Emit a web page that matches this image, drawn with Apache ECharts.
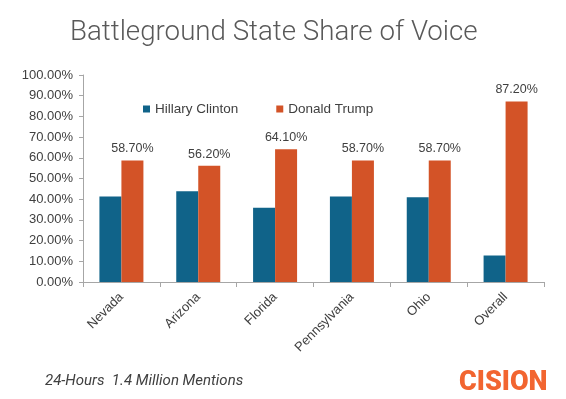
<!DOCTYPE html>
<html>
<head>
<meta charset="utf-8">
<script src="https://cdn.jsdelivr.net/npm/echarts@6/dist/echarts.min.js"></script>
<style>
  html, body { margin: 0; padding: 0; background: #fff; }
  #chart { width: 566px; height: 399px; }
</style>
</head>
<body>
<div id="chart"></div>
<script>
var states = ['Nevada', 'Arizona', 'Florida', 'Pennsylvania', 'Ohio', 'Overall'];
var clinton = [41.3, 43.8, 35.9, 41.3, 41.0, 12.8];
var trump = [58.7, 56.2, 64.1, 58.7, 58.7, 87.2];

var myChart = echarts.init(document.getElementById('chart'));

var option = {
  backgroundColor: '#fff',
  animation: false,
  title: [{
    text: 'Battleground State Share of Voice',
    left: 65,
    top: 14,
    textStyle: {
      fontFamily: 'Roboto',
      fontWeight: 300,
      fontSize: 27.7,
      color: '#595959'
    }
  }, {
    text: '24-Hours  1.4 Million Mentions',
    left: 40,
    top: 369,
    textStyle: {
      fontFamily: 'Roboto',
      fontStyle: 'italic',
      fontWeight: 'normal',
      fontSize: 15,
      color: '#404040'
    }
  }, {
    text: 'CISION',
    left: 454,
    top: 365,
    textStyle: {
      fontFamily: 'Roboto',
      fontWeight: 900,
      fontSize: 27,
      color: '#f26530'
    }
  }],
  legend: {
    top: 97,
    left: 138,
    itemGap: 38,
    itemWidth: 7,
    itemHeight: 7,
    icon: 'rect',
    textStyle: { fontFamily: 'Arial', fontSize: 13.5, color: '#404040' },
    data: ['Hillary Clinton', 'Donald Trump']
  },
  grid: { left: 83, right: 22, top: 75, bottom: 117 },
  xAxis: {
    type: 'category',
    data: states,
    axisLine: { lineStyle: { color: '#a6a6a6' } },
    axisTick: { show: true, alignWithLabel: false, length: 5, lineStyle: { color: '#a6a6a6' } },
    axisLabel: {
      rotate: 45,
      interval: 0,
      margin: 13,
      fontFamily: 'Arial',
      fontSize: 13,
      color: '#404040'
    }
  },
  yAxis: {
    type: 'value',
    min: 0,
    max: 100,
    interval: 10,
    axisLine: { show: true, lineStyle: { color: '#a6a6a6' } },
    axisTick: { show: true, length: 4, lineStyle: { color: '#a6a6a6' } },
    splitLine: { show: false },
    axisLabel: {
      margin: 10,
      fontFamily: 'Arial',
      fontSize: 13,
      color: '#404040',
      formatter: function (v) { return v.toFixed(2) + '%'; }
    }
  },
  series: [{
    name: 'Hillary Clinton',
    type: 'bar',
    barWidth: 22,
    barGap: '0%',
    itemStyle: { color: '#106389' },
    data: clinton
  }, {
    name: 'Donald Trump',
    type: 'bar',
    barWidth: 22,
    itemStyle: { color: '#d35327' },
    label: {
      show: true,
      position: 'top',
      distance: 5,
      fontFamily: 'Arial',
      fontSize: 12.5,
      color: '#404040',
      formatter: function (p) { return p.value.toFixed(2) + '%'; }
    },
    data: trump
  }]
};

myChart.setOption(option);
</script>
</body>
</html>
